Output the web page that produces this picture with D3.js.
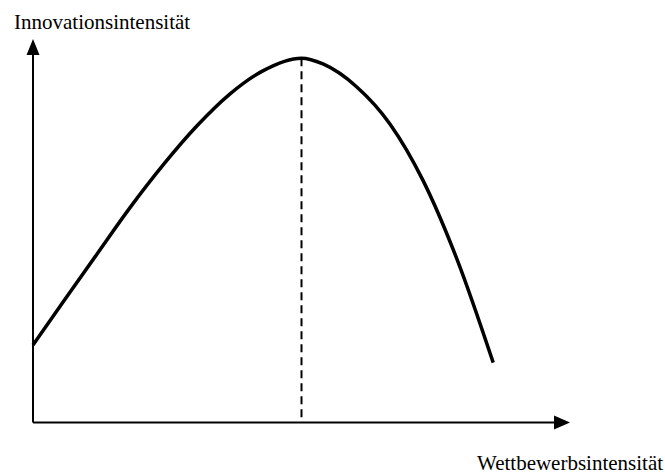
<!DOCTYPE html>
<html>
<head>
<meta charset="utf-8">
<script src="https://cdn.jsdelivr.net/npm/d3@7"></script>
<style>
  body { margin: 0; background: #fff; }
  text { font-family: "Liberation Serif", "Times New Roman", serif; fill: #000; }
</style>
</head>
<body>
<div id="vis"></div>
<script>
const FRAME_WIDTH = 665;
const FRAME_HEIGHT = 474;

// curve (abstract units, 0..10 on both axes)
const competition = [0, 0.56, 1.19, 1.80, 2.42, 3.05, 3.67, 4.28, 5.0, 5.40, 6.03, 6.65, 7.26, 7.90, 8.57];
const innovation = [2.02, 3.14, 4.39, 5.59, 6.71, 7.73, 8.57, 9.17, 9.5, 9.35, 8.75, 7.78, 6.32, 4.24, 1.56];
const peak = { x: 5.0, y: 9.5 };
const axisLabels = ["Innovationsintensität", "Wettbewerbsintensität"];

const FRAME = d3.select("#vis")
  .append("svg")
  .attr("width", FRAME_WIDTH)
  .attr("height", FRAME_HEIGHT);

const X_SCALE = d3.scaleLinear().domain([0, 10]).range([33, 570]);
const Y_SCALE = d3.scaleLinear().domain([0, 10]).range([422.5, 39]);

const points = competition.map((x, i) => ({ x: x, y: innovation[i] }));

// axes
const x0 = X_SCALE(0), y0 = Y_SCALE(0);
FRAME.append("line")
  .attr("x1", x0).attr("y1", y0)
  .attr("x2", X_SCALE(10) - 14).attr("y2", y0)
  .attr("stroke", "#000").attr("stroke-width", 2);
FRAME.append("line")
  .attr("x1", x0).attr("y1", y0)
  .attr("x2", x0).attr("y2", Y_SCALE(10) + 14)
  .attr("stroke", "#000").attr("stroke-width", 2);

// arrow heads
const xt = X_SCALE(10), yt = Y_SCALE(10);
FRAME.append("path")
  .attr("d", `M${xt},${y0} L${xt - 16},${y0 - 7} L${xt - 16},${y0 + 7} Z`)
  .attr("fill", "#000");
FRAME.append("path")
  .attr("d", `M${x0},${yt} L${x0 - 6.5},${yt + 16} L${x0 + 6.5},${yt + 16} Z`)
  .attr("fill", "#000");

// dashed line under the peak
FRAME.append("line")
  .attr("x1", X_SCALE(peak.x)).attr("y1", Y_SCALE(peak.y))
  .attr("x2", X_SCALE(peak.x)).attr("y2", y0)
  .attr("stroke", "#000")
  .attr("stroke-width", 2)
  .attr("stroke-dasharray", "8,5");

// the curve
const line = d3.line()
  .x((d) => X_SCALE(d.x))
  .y((d) => Y_SCALE(d.y))
  .curve(d3.curveMonotoneX);

FRAME.append("path")
  .datum(points)
  .attr("d", line)
  .attr("fill", "none")
  .attr("stroke", "#000")
  .attr("stroke-width", 3.5)
  .attr("stroke-linecap", "butt");

// labels
FRAME.append("text")
  .attr("x", 14).attr("y", 29)
  .style("font-size", "21px")
  .text(axisLabels[0]);

FRAME.append("text")
  .attr("x", 477).attr("y", 470)
  .style("font-size", "21px")
  .text(axisLabels[1]);
</script>
</body>
</html>
